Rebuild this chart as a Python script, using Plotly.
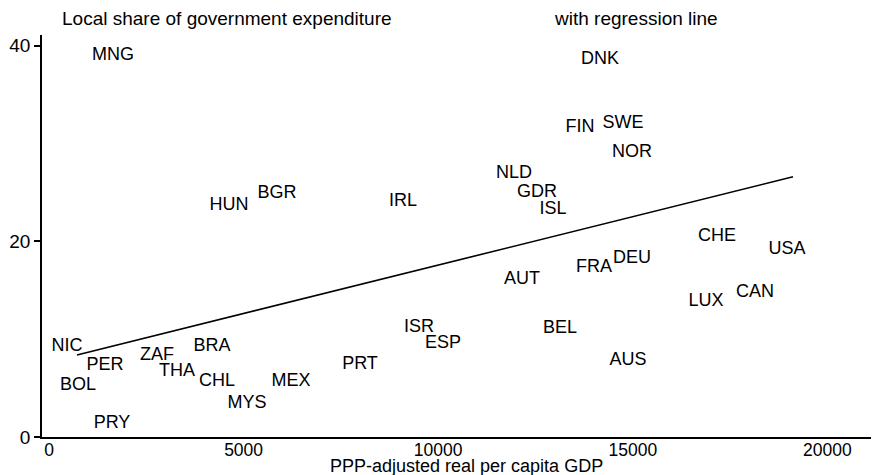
import plotly.graph_objects as go

# Country labels, PPP-adjusted real per capita GDP, local share of government expenditure (%)
countries = ["MNG", "DNK", "FIN", "SWE", "NOR", "NLD", "GDR", "ISL", "HUN", "BGR",
             "IRL", "CHE", "USA", "FRA", "DEU", "LUX", "CAN", "AUS", "AUT", "BEL",
             "ISR", "ESP", "NIC", "PER", "BOL", "ZAF", "THA", "BRA", "CHL", "MEX",
             "MYS", "PRT", "PRY"]
gdp = [1644, 14157, 13646, 14748, 14979, 11948, 12538, 12950, 4625, 5858,
       9096, 17163, 18962, 14003, 14979, 16881, 18140, 14877, 12153, 13130,
       9507, 10123, 462, 1439, 745, 2775, 3289, 4188, 4316, 6218,
       5087, 7991, 1619]
share = [39.0, 38.6, 31.6, 32.1, 29.05, 26.9, 24.96, 23.3, 23.7, 24.86,
         24.1, 20.46, 19.2, 17.3, 18.3, 13.9, 14.8, 7.8, 16.06, 11.05,
         11.15, 9.6, 9.3, 7.26, 5.3, 8.3, 6.65, 9.3, 5.7, 5.7,
         3.4, 7.4, 1.33]

# Regression line endpoints
reg_x = [719, 19116]
reg_y = [8.39, 26.6]

x_ticks = [0, 5000, 10000, 15000, 20000]
x_tick_labels = ["0", "5000", "10000", "15000", "20000"]
y_ticks = [0, 20, 40]
y_tick_labels = ["0", "20", "40"]

FONT = "Liberation Sans, Arial, Helvetica, sans-serif"

fig = go.Figure()
fig.add_trace(go.Scatter(
    x=reg_x, y=reg_y, mode="lines",
    line=dict(color="black", width=1.6),
    hoverinfo="skip", showlegend=False,
))
fig.add_trace(go.Scatter(
    x=gdp, y=share, mode="text", text=countries,
    textposition="middle center",
    textfont=dict(family=FONT, size=18, color="black"),
    showlegend=False,
))

fig.add_annotation(text="Local share of government expenditure",
                   xref="paper", yref="paper", x=0.022, y=1.04,
                   xanchor="left", yanchor="middle", showarrow=False,
                   font=dict(family=FONT, size=19, color="black"))
fig.add_annotation(text="with regression line",
                   xref="paper", yref="paper", x=0.609, y=1.04,
                   xanchor="left", yanchor="middle", showarrow=False,
                   font=dict(family=FONT, size=19, color="black"))
fig.add_annotation(text="PPP-adjusted real per capita GDP",
                   xref="paper", yref="paper", x=0.507, y=-0.073,
                   xanchor="center", yanchor="middle", showarrow=False,
                   font=dict(family=FONT, size=18, color="black"))

fig.update_layout(
    width=871, height=467,
    margin=dict(l=34, r=0, t=27, b=38),
    paper_bgcolor="white", plot_bgcolor="white",
    font=dict(family=FONT, size=19, color="black"),
    xaxis=dict(
        range=[-180, 21326], tickvals=x_ticks, ticktext=x_tick_labels,
        showgrid=False, zeroline=False, automargin=False,
        showline=True, linecolor="black", linewidth=1.5,
        ticks="", tickfont=dict(size=17.5), ticklabelstandoff=-4,
    ),
    yaxis=dict(
        range=[0, 41.1], tickvals=y_ticks, ticktext=y_tick_labels,
        showgrid=False, zeroline=False, automargin=False,
        showline=True, linecolor="black", linewidth=1.5,
        ticks="outside", ticklen=6, tickwidth=1.5, tickcolor="black",
        tickfont=dict(size=19),
    ),
)

fig.write_html("out.html")
